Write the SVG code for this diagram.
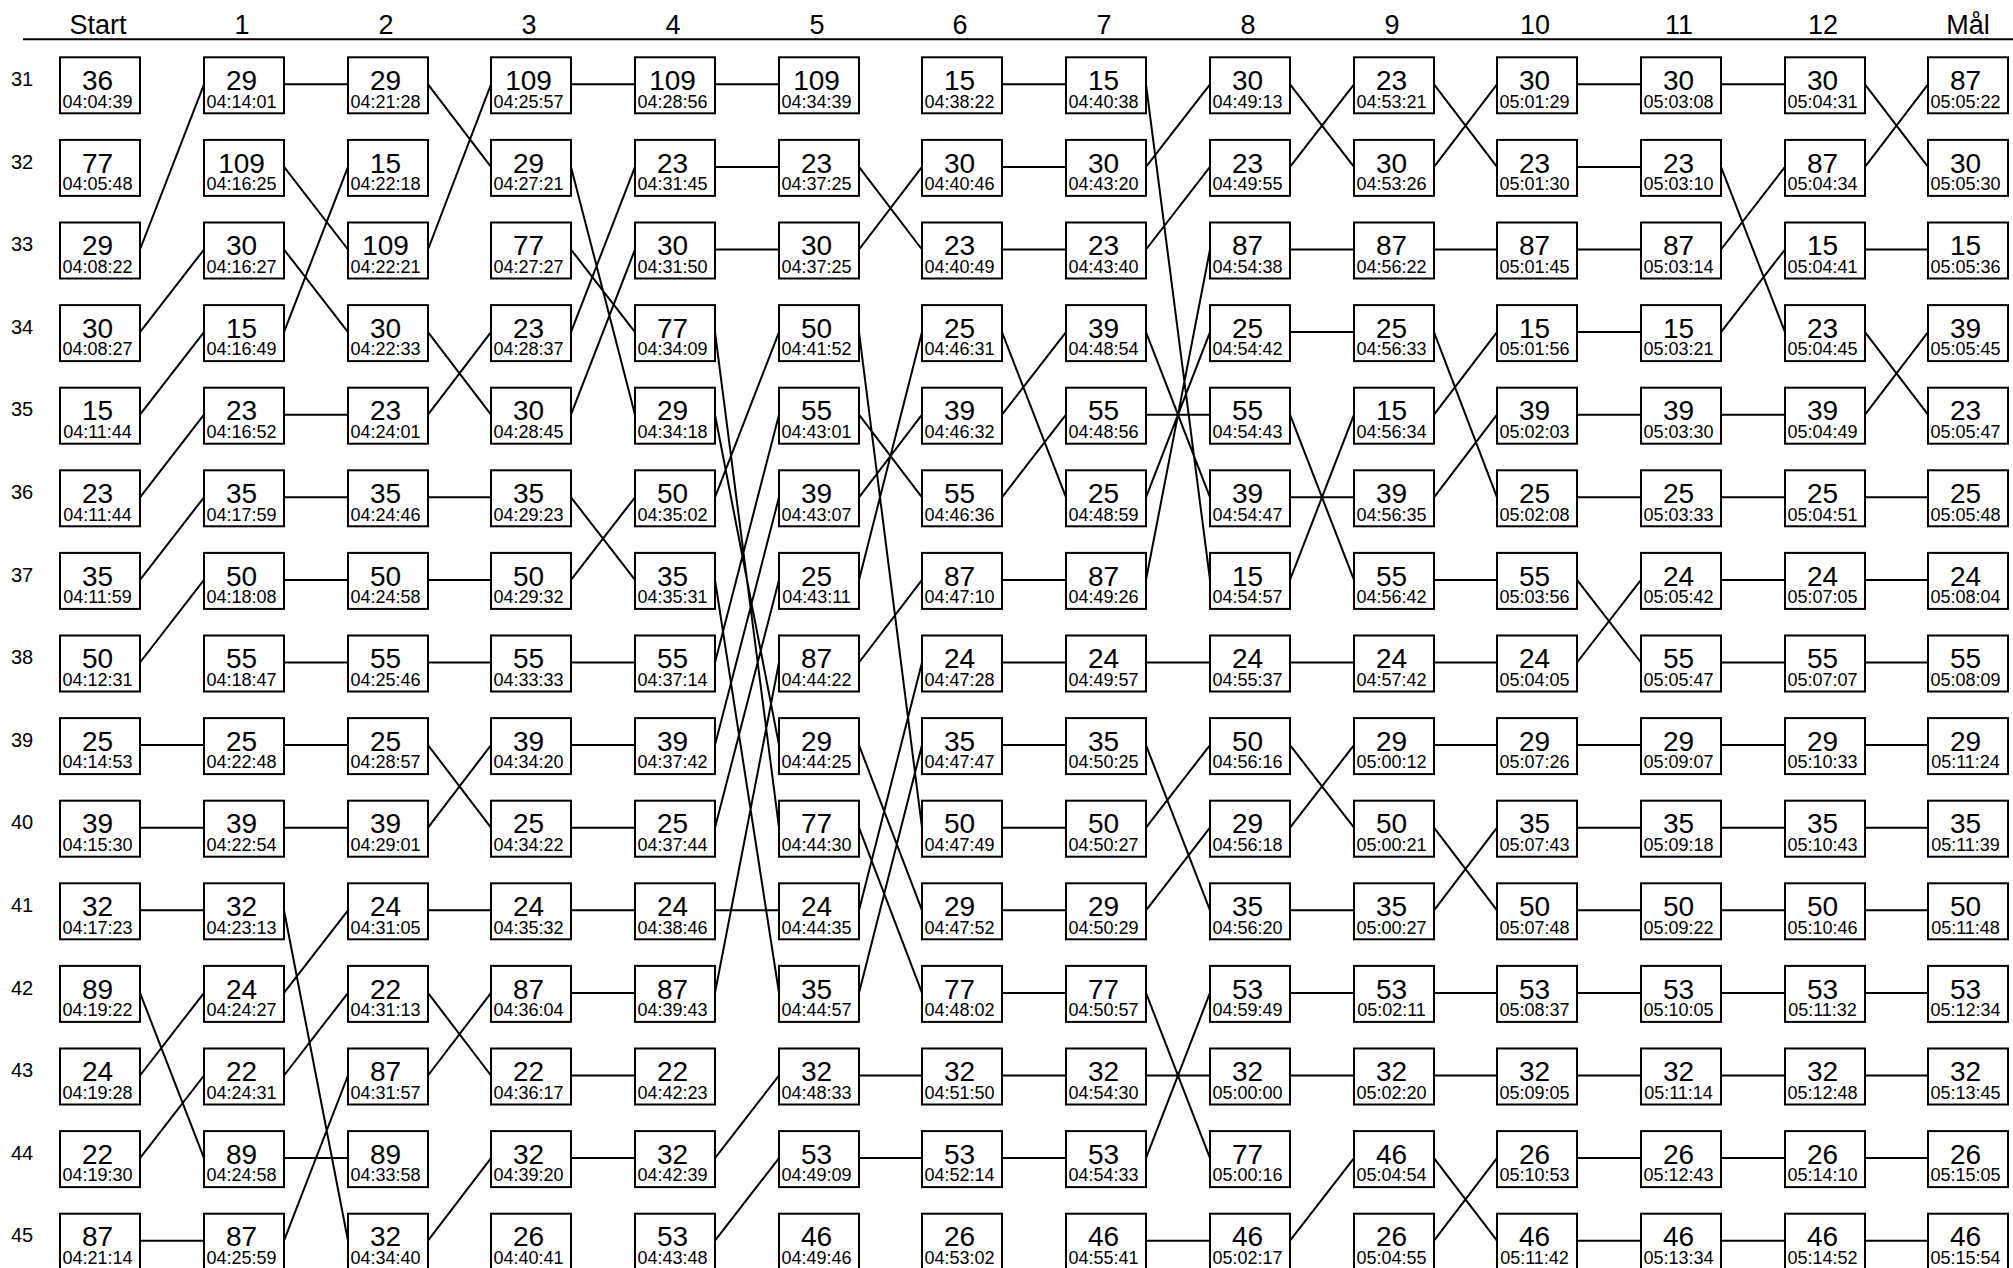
<svg xmlns="http://www.w3.org/2000/svg" width="2013" height="1268" viewBox="0 0 2013 1268">
<style>
text{font-family:"Liberation Sans",Arial,sans-serif;fill:#000}
.h{font-size:27px;text-anchor:middle}
.r{font-size:20px}
.nd rect{fill:#fff;stroke:#000;stroke-width:2}
.n{font-size:28px;text-anchor:middle}
.t{font-size:18px;text-anchor:middle}
#connectors path{fill:none;stroke:#000;stroke-width:2}
</style>
<rect width="2013" height="1268" fill="#fff"/>
<g id="header">
<line x1="23" y1="39.3" x2="2013" y2="39.3" stroke="#000" stroke-width="2"/>
<text class="h" x="98" y="34">Start</text><text class="h" x="242" y="34">1</text><text class="h" x="386" y="34">2</text><text class="h" x="529" y="34">3</text><text class="h" x="673" y="34">4</text><text class="h" x="817" y="34">5</text><text class="h" x="960" y="34">6</text><text class="h" x="1104" y="34">7</text><text class="h" x="1248" y="34">8</text><text class="h" x="1392" y="34">9</text><text class="h" x="1535" y="34">10</text><text class="h" x="1679" y="34">11</text><text class="h" x="1823" y="34">12</text><text class="h" x="1968" y="34">Mål</text>
</g>
<g id="rows">
<text class="r" x="11" y="86">31</text><text class="r" x="11" y="168.6">32</text><text class="r" x="11" y="251.2">33</text><text class="r" x="11" y="333.8">34</text><text class="r" x="11" y="416.4">35</text><text class="r" x="11" y="499">36</text><text class="r" x="11" y="581.6">37</text><text class="r" x="11" y="664.2">38</text><text class="r" x="11" y="746.8">39</text><text class="r" x="11" y="829.4">40</text><text class="r" x="11" y="912">41</text><text class="r" x="11" y="994.6">42</text><text class="r" x="11" y="1077.2">43</text><text class="r" x="11" y="1159.8">44</text><text class="r" x="11" y="1242.4">45</text>
</g>
<g id="connectors">
<path d="M140 249.5L204 84.3M140 332.1L204 249.5M140 414.7L204 332.1M140 497.3L204 414.7M140 579.9L204 497.3M140 662.5L204 579.9M140 745.1L204 745.1M140 827.7L204 827.7M140 910.3L204 910.3M140 992.9L204 1158.1M140 1075.5L204 992.9M140 1158.1L204 1075.5M140 1240.7L204 1240.7"/>
<path d="M284 84.3L348 84.3M284 332.1L348 166.9M284 166.9L348 249.5M284 249.5L348 332.1M284 414.7L348 414.7M284 497.3L348 497.3M284 579.9L348 579.9M284 662.5L348 662.5M284 745.1L348 745.1M284 827.7L348 827.7M284 992.9L348 910.3M284 1075.5L348 992.9M284 1240.7L348 1075.5M284 1158.1L348 1158.1M284 910.3L348 1240.7"/>
<path d="M428 249.5L491 84.3M428 84.3L491 166.9M428 414.7L491 332.1M428 332.1L491 414.7M428 497.3L491 497.3M428 579.9L491 579.9M428 662.5L491 662.5M428 827.7L491 745.1M428 745.1L491 827.7M428 910.3L491 910.3M428 1075.5L491 992.9M428 992.9L491 1075.5M428 1240.7L491 1158.1"/>
<path d="M571 84.3L635 84.3M571 332.1L635 166.9M571 414.7L635 249.5M571 249.5L635 332.1M571 166.9L635 414.7M571 579.9L635 497.3M571 497.3L635 579.9M571 662.5L635 662.5M571 745.1L635 745.1M571 827.7L635 827.7M571 910.3L635 910.3M571 992.9L635 992.9M571 1075.5L635 1075.5M571 1158.1L635 1158.1"/>
<path d="M715 84.3L779 84.3M715 166.9L779 166.9M715 249.5L779 249.5M715 497.3L779 332.1M715 662.5L779 414.7M715 745.1L779 497.3M715 827.7L779 579.9M715 992.9L779 662.5M715 414.7L779 745.1M715 332.1L779 827.7M715 910.3L779 910.3M715 579.9L779 992.9M715 1158.1L779 1075.5M715 1240.7L779 1158.1"/>
<path d="M859 249.5L922 166.9M859 166.9L922 249.5M859 579.9L922 332.1M859 497.3L922 414.7M859 414.7L922 497.3M859 662.5L922 579.9M859 910.3L922 662.5M859 992.9L922 745.1M859 332.1L922 827.7M859 745.1L922 910.3M859 827.7L922 992.9M859 1075.5L922 1075.5M859 1158.1L922 1158.1"/>
<path d="M1002 84.3L1066 84.3M1002 166.9L1066 166.9M1002 249.5L1066 249.5M1002 414.7L1066 332.1M1002 497.3L1066 414.7M1002 332.1L1066 497.3M1002 579.9L1066 579.9M1002 662.5L1066 662.5M1002 745.1L1066 745.1M1002 827.7L1066 827.7M1002 910.3L1066 910.3M1002 992.9L1066 992.9M1002 1075.5L1066 1075.5M1002 1158.1L1066 1158.1"/>
<path d="M1146 166.9L1210 84.3M1146 249.5L1210 166.9M1146 579.9L1210 249.5M1146 497.3L1210 332.1M1146 414.7L1210 414.7M1146 332.1L1210 497.3M1146 84.3L1210 579.9M1146 662.5L1210 662.5M1146 827.7L1210 745.1M1146 910.3L1210 827.7M1146 745.1L1210 910.3M1146 1158.1L1210 992.9M1146 1075.5L1210 1075.5M1146 992.9L1210 1158.1M1146 1240.7L1210 1240.7"/>
<path d="M1290 166.9L1354 84.3M1290 84.3L1354 166.9M1290 249.5L1354 249.5M1290 332.1L1354 332.1M1290 579.9L1354 414.7M1290 497.3L1354 497.3M1290 414.7L1354 579.9M1290 662.5L1354 662.5M1290 827.7L1354 745.1M1290 745.1L1354 827.7M1290 910.3L1354 910.3M1290 992.9L1354 992.9M1290 1075.5L1354 1075.5M1290 1240.7L1354 1158.1"/>
<path d="M1434 166.9L1497 84.3M1434 84.3L1497 166.9M1434 249.5L1497 249.5M1434 414.7L1497 332.1M1434 497.3L1497 414.7M1434 332.1L1497 497.3M1434 579.9L1497 579.9M1434 662.5L1497 662.5M1434 745.1L1497 745.1M1434 910.3L1497 827.7M1434 827.7L1497 910.3M1434 992.9L1497 992.9M1434 1075.5L1497 1075.5M1434 1240.7L1497 1158.1M1434 1158.1L1497 1240.7"/>
<path d="M1577 84.3L1641 84.3M1577 166.9L1641 166.9M1577 249.5L1641 249.5M1577 332.1L1641 332.1M1577 414.7L1641 414.7M1577 497.3L1641 497.3M1577 662.5L1641 579.9M1577 579.9L1641 662.5M1577 745.1L1641 745.1M1577 827.7L1641 827.7M1577 910.3L1641 910.3M1577 992.9L1641 992.9M1577 1075.5L1641 1075.5M1577 1158.1L1641 1158.1M1577 1240.7L1641 1240.7"/>
<path d="M1721 84.3L1785 84.3M1721 249.5L1785 166.9M1721 332.1L1785 249.5M1721 166.9L1785 332.1M1721 414.7L1785 414.7M1721 497.3L1785 497.3M1721 579.9L1785 579.9M1721 662.5L1785 662.5M1721 745.1L1785 745.1M1721 827.7L1785 827.7M1721 910.3L1785 910.3M1721 992.9L1785 992.9M1721 1075.5L1785 1075.5M1721 1158.1L1785 1158.1M1721 1240.7L1785 1240.7"/>
<path d="M1865 166.9L1928 84.3M1865 84.3L1928 166.9M1865 249.5L1928 249.5M1865 414.7L1928 332.1M1865 332.1L1928 414.7M1865 497.3L1928 497.3M1865 579.9L1928 579.9M1865 662.5L1928 662.5M1865 745.1L1928 745.1M1865 827.7L1928 827.7M1865 910.3L1928 910.3M1865 992.9L1928 992.9M1865 1075.5L1928 1075.5M1865 1158.1L1928 1158.1M1865 1240.7L1928 1240.7"/>
</g>
<g id="nodes">
<g id="c0r31" class="nd" transform="translate(60,57.3)"><rect width="80" height="56"/><text class="n" x="37.5" y="32.7">36</text><text class="t" x="37.5" y="50.4">04:04:39</text></g>
<g id="c0r32" class="nd" transform="translate(60,139.9)"><rect width="80" height="56"/><text class="n" x="37.5" y="32.7">77</text><text class="t" x="37.5" y="50.4">04:05:48</text></g>
<g id="c0r33" class="nd" transform="translate(60,222.5)"><rect width="80" height="56"/><text class="n" x="37.5" y="32.7">29</text><text class="t" x="37.5" y="50.4">04:08:22</text></g>
<g id="c0r34" class="nd" transform="translate(60,305.1)"><rect width="80" height="56"/><text class="n" x="37.5" y="32.7">30</text><text class="t" x="37.5" y="50.4">04:08:27</text></g>
<g id="c0r35" class="nd" transform="translate(60,387.7)"><rect width="80" height="56"/><text class="n" x="37.5" y="32.7">15</text><text class="t" x="37.5" y="50.4">04:11:44</text></g>
<g id="c0r36" class="nd" transform="translate(60,470.3)"><rect width="80" height="56"/><text class="n" x="37.5" y="32.7">23</text><text class="t" x="37.5" y="50.4">04:11:44</text></g>
<g id="c0r37" class="nd" transform="translate(60,552.9)"><rect width="80" height="56"/><text class="n" x="37.5" y="32.7">35</text><text class="t" x="37.5" y="50.4">04:11:59</text></g>
<g id="c0r38" class="nd" transform="translate(60,635.5)"><rect width="80" height="56"/><text class="n" x="37.5" y="32.7">50</text><text class="t" x="37.5" y="50.4">04:12:31</text></g>
<g id="c0r39" class="nd" transform="translate(60,718.1)"><rect width="80" height="56"/><text class="n" x="37.5" y="32.7">25</text><text class="t" x="37.5" y="50.4">04:14:53</text></g>
<g id="c0r40" class="nd" transform="translate(60,800.7)"><rect width="80" height="56"/><text class="n" x="37.5" y="32.7">39</text><text class="t" x="37.5" y="50.4">04:15:30</text></g>
<g id="c0r41" class="nd" transform="translate(60,883.3)"><rect width="80" height="56"/><text class="n" x="37.5" y="32.7">32</text><text class="t" x="37.5" y="50.4">04:17:23</text></g>
<g id="c0r42" class="nd" transform="translate(60,965.9)"><rect width="80" height="56"/><text class="n" x="37.5" y="32.7">89</text><text class="t" x="37.5" y="50.4">04:19:22</text></g>
<g id="c0r43" class="nd" transform="translate(60,1048.5)"><rect width="80" height="56"/><text class="n" x="37.5" y="32.7">24</text><text class="t" x="37.5" y="50.4">04:19:28</text></g>
<g id="c0r44" class="nd" transform="translate(60,1131.1)"><rect width="80" height="56"/><text class="n" x="37.5" y="32.7">22</text><text class="t" x="37.5" y="50.4">04:19:30</text></g>
<g id="c0r45" class="nd" transform="translate(60,1213.7)"><rect width="80" height="56"/><text class="n" x="37.5" y="32.7">87</text><text class="t" x="37.5" y="50.4">04:21:14</text></g>

<g id="c1r31" class="nd" transform="translate(204,57.3)"><rect width="80" height="56"/><text class="n" x="37.5" y="32.7">29</text><text class="t" x="37.5" y="50.4">04:14:01</text></g>
<g id="c1r32" class="nd" transform="translate(204,139.9)"><rect width="80" height="56"/><text class="n" x="37.5" y="32.7">109</text><text class="t" x="37.5" y="50.4">04:16:25</text></g>
<g id="c1r33" class="nd" transform="translate(204,222.5)"><rect width="80" height="56"/><text class="n" x="37.5" y="32.7">30</text><text class="t" x="37.5" y="50.4">04:16:27</text></g>
<g id="c1r34" class="nd" transform="translate(204,305.1)"><rect width="80" height="56"/><text class="n" x="37.5" y="32.7">15</text><text class="t" x="37.5" y="50.4">04:16:49</text></g>
<g id="c1r35" class="nd" transform="translate(204,387.7)"><rect width="80" height="56"/><text class="n" x="37.5" y="32.7">23</text><text class="t" x="37.5" y="50.4">04:16:52</text></g>
<g id="c1r36" class="nd" transform="translate(204,470.3)"><rect width="80" height="56"/><text class="n" x="37.5" y="32.7">35</text><text class="t" x="37.5" y="50.4">04:17:59</text></g>
<g id="c1r37" class="nd" transform="translate(204,552.9)"><rect width="80" height="56"/><text class="n" x="37.5" y="32.7">50</text><text class="t" x="37.5" y="50.4">04:18:08</text></g>
<g id="c1r38" class="nd" transform="translate(204,635.5)"><rect width="80" height="56"/><text class="n" x="37.5" y="32.7">55</text><text class="t" x="37.5" y="50.4">04:18:47</text></g>
<g id="c1r39" class="nd" transform="translate(204,718.1)"><rect width="80" height="56"/><text class="n" x="37.5" y="32.7">25</text><text class="t" x="37.5" y="50.4">04:22:48</text></g>
<g id="c1r40" class="nd" transform="translate(204,800.7)"><rect width="80" height="56"/><text class="n" x="37.5" y="32.7">39</text><text class="t" x="37.5" y="50.4">04:22:54</text></g>
<g id="c1r41" class="nd" transform="translate(204,883.3)"><rect width="80" height="56"/><text class="n" x="37.5" y="32.7">32</text><text class="t" x="37.5" y="50.4">04:23:13</text></g>
<g id="c1r42" class="nd" transform="translate(204,965.9)"><rect width="80" height="56"/><text class="n" x="37.5" y="32.7">24</text><text class="t" x="37.5" y="50.4">04:24:27</text></g>
<g id="c1r43" class="nd" transform="translate(204,1048.5)"><rect width="80" height="56"/><text class="n" x="37.5" y="32.7">22</text><text class="t" x="37.5" y="50.4">04:24:31</text></g>
<g id="c1r44" class="nd" transform="translate(204,1131.1)"><rect width="80" height="56"/><text class="n" x="37.5" y="32.7">89</text><text class="t" x="37.5" y="50.4">04:24:58</text></g>
<g id="c1r45" class="nd" transform="translate(204,1213.7)"><rect width="80" height="56"/><text class="n" x="37.5" y="32.7">87</text><text class="t" x="37.5" y="50.4">04:25:59</text></g>

<g id="c2r31" class="nd" transform="translate(348,57.3)"><rect width="80" height="56"/><text class="n" x="37.5" y="32.7">29</text><text class="t" x="37.5" y="50.4">04:21:28</text></g>
<g id="c2r32" class="nd" transform="translate(348,139.9)"><rect width="80" height="56"/><text class="n" x="37.5" y="32.7">15</text><text class="t" x="37.5" y="50.4">04:22:18</text></g>
<g id="c2r33" class="nd" transform="translate(348,222.5)"><rect width="80" height="56"/><text class="n" x="37.5" y="32.7">109</text><text class="t" x="37.5" y="50.4">04:22:21</text></g>
<g id="c2r34" class="nd" transform="translate(348,305.1)"><rect width="80" height="56"/><text class="n" x="37.5" y="32.7">30</text><text class="t" x="37.5" y="50.4">04:22:33</text></g>
<g id="c2r35" class="nd" transform="translate(348,387.7)"><rect width="80" height="56"/><text class="n" x="37.5" y="32.7">23</text><text class="t" x="37.5" y="50.4">04:24:01</text></g>
<g id="c2r36" class="nd" transform="translate(348,470.3)"><rect width="80" height="56"/><text class="n" x="37.5" y="32.7">35</text><text class="t" x="37.5" y="50.4">04:24:46</text></g>
<g id="c2r37" class="nd" transform="translate(348,552.9)"><rect width="80" height="56"/><text class="n" x="37.5" y="32.7">50</text><text class="t" x="37.5" y="50.4">04:24:58</text></g>
<g id="c2r38" class="nd" transform="translate(348,635.5)"><rect width="80" height="56"/><text class="n" x="37.5" y="32.7">55</text><text class="t" x="37.5" y="50.4">04:25:46</text></g>
<g id="c2r39" class="nd" transform="translate(348,718.1)"><rect width="80" height="56"/><text class="n" x="37.5" y="32.7">25</text><text class="t" x="37.5" y="50.4">04:28:57</text></g>
<g id="c2r40" class="nd" transform="translate(348,800.7)"><rect width="80" height="56"/><text class="n" x="37.5" y="32.7">39</text><text class="t" x="37.5" y="50.4">04:29:01</text></g>
<g id="c2r41" class="nd" transform="translate(348,883.3)"><rect width="80" height="56"/><text class="n" x="37.5" y="32.7">24</text><text class="t" x="37.5" y="50.4">04:31:05</text></g>
<g id="c2r42" class="nd" transform="translate(348,965.9)"><rect width="80" height="56"/><text class="n" x="37.5" y="32.7">22</text><text class="t" x="37.5" y="50.4">04:31:13</text></g>
<g id="c2r43" class="nd" transform="translate(348,1048.5)"><rect width="80" height="56"/><text class="n" x="37.5" y="32.7">87</text><text class="t" x="37.5" y="50.4">04:31:57</text></g>
<g id="c2r44" class="nd" transform="translate(348,1131.1)"><rect width="80" height="56"/><text class="n" x="37.5" y="32.7">89</text><text class="t" x="37.5" y="50.4">04:33:58</text></g>
<g id="c2r45" class="nd" transform="translate(348,1213.7)"><rect width="80" height="56"/><text class="n" x="37.5" y="32.7">32</text><text class="t" x="37.5" y="50.4">04:34:40</text></g>

<g id="c3r31" class="nd" transform="translate(491,57.3)"><rect width="80" height="56"/><text class="n" x="37.5" y="32.7">109</text><text class="t" x="37.5" y="50.4">04:25:57</text></g>
<g id="c3r32" class="nd" transform="translate(491,139.9)"><rect width="80" height="56"/><text class="n" x="37.5" y="32.7">29</text><text class="t" x="37.5" y="50.4">04:27:21</text></g>
<g id="c3r33" class="nd" transform="translate(491,222.5)"><rect width="80" height="56"/><text class="n" x="37.5" y="32.7">77</text><text class="t" x="37.5" y="50.4">04:27:27</text></g>
<g id="c3r34" class="nd" transform="translate(491,305.1)"><rect width="80" height="56"/><text class="n" x="37.5" y="32.7">23</text><text class="t" x="37.5" y="50.4">04:28:37</text></g>
<g id="c3r35" class="nd" transform="translate(491,387.7)"><rect width="80" height="56"/><text class="n" x="37.5" y="32.7">30</text><text class="t" x="37.5" y="50.4">04:28:45</text></g>
<g id="c3r36" class="nd" transform="translate(491,470.3)"><rect width="80" height="56"/><text class="n" x="37.5" y="32.7">35</text><text class="t" x="37.5" y="50.4">04:29:23</text></g>
<g id="c3r37" class="nd" transform="translate(491,552.9)"><rect width="80" height="56"/><text class="n" x="37.5" y="32.7">50</text><text class="t" x="37.5" y="50.4">04:29:32</text></g>
<g id="c3r38" class="nd" transform="translate(491,635.5)"><rect width="80" height="56"/><text class="n" x="37.5" y="32.7">55</text><text class="t" x="37.5" y="50.4">04:33:33</text></g>
<g id="c3r39" class="nd" transform="translate(491,718.1)"><rect width="80" height="56"/><text class="n" x="37.5" y="32.7">39</text><text class="t" x="37.5" y="50.4">04:34:20</text></g>
<g id="c3r40" class="nd" transform="translate(491,800.7)"><rect width="80" height="56"/><text class="n" x="37.5" y="32.7">25</text><text class="t" x="37.5" y="50.4">04:34:22</text></g>
<g id="c3r41" class="nd" transform="translate(491,883.3)"><rect width="80" height="56"/><text class="n" x="37.5" y="32.7">24</text><text class="t" x="37.5" y="50.4">04:35:32</text></g>
<g id="c3r42" class="nd" transform="translate(491,965.9)"><rect width="80" height="56"/><text class="n" x="37.5" y="32.7">87</text><text class="t" x="37.5" y="50.4">04:36:04</text></g>
<g id="c3r43" class="nd" transform="translate(491,1048.5)"><rect width="80" height="56"/><text class="n" x="37.5" y="32.7">22</text><text class="t" x="37.5" y="50.4">04:36:17</text></g>
<g id="c3r44" class="nd" transform="translate(491,1131.1)"><rect width="80" height="56"/><text class="n" x="37.5" y="32.7">32</text><text class="t" x="37.5" y="50.4">04:39:20</text></g>
<g id="c3r45" class="nd" transform="translate(491,1213.7)"><rect width="80" height="56"/><text class="n" x="37.5" y="32.7">26</text><text class="t" x="37.5" y="50.4">04:40:41</text></g>

<g id="c4r31" class="nd" transform="translate(635,57.3)"><rect width="80" height="56"/><text class="n" x="37.5" y="32.7">109</text><text class="t" x="37.5" y="50.4">04:28:56</text></g>
<g id="c4r32" class="nd" transform="translate(635,139.9)"><rect width="80" height="56"/><text class="n" x="37.5" y="32.7">23</text><text class="t" x="37.5" y="50.4">04:31:45</text></g>
<g id="c4r33" class="nd" transform="translate(635,222.5)"><rect width="80" height="56"/><text class="n" x="37.5" y="32.7">30</text><text class="t" x="37.5" y="50.4">04:31:50</text></g>
<g id="c4r34" class="nd" transform="translate(635,305.1)"><rect width="80" height="56"/><text class="n" x="37.5" y="32.7">77</text><text class="t" x="37.5" y="50.4">04:34:09</text></g>
<g id="c4r35" class="nd" transform="translate(635,387.7)"><rect width="80" height="56"/><text class="n" x="37.5" y="32.7">29</text><text class="t" x="37.5" y="50.4">04:34:18</text></g>
<g id="c4r36" class="nd" transform="translate(635,470.3)"><rect width="80" height="56"/><text class="n" x="37.5" y="32.7">50</text><text class="t" x="37.5" y="50.4">04:35:02</text></g>
<g id="c4r37" class="nd" transform="translate(635,552.9)"><rect width="80" height="56"/><text class="n" x="37.5" y="32.7">35</text><text class="t" x="37.5" y="50.4">04:35:31</text></g>
<g id="c4r38" class="nd" transform="translate(635,635.5)"><rect width="80" height="56"/><text class="n" x="37.5" y="32.7">55</text><text class="t" x="37.5" y="50.4">04:37:14</text></g>
<g id="c4r39" class="nd" transform="translate(635,718.1)"><rect width="80" height="56"/><text class="n" x="37.5" y="32.7">39</text><text class="t" x="37.5" y="50.4">04:37:42</text></g>
<g id="c4r40" class="nd" transform="translate(635,800.7)"><rect width="80" height="56"/><text class="n" x="37.5" y="32.7">25</text><text class="t" x="37.5" y="50.4">04:37:44</text></g>
<g id="c4r41" class="nd" transform="translate(635,883.3)"><rect width="80" height="56"/><text class="n" x="37.5" y="32.7">24</text><text class="t" x="37.5" y="50.4">04:38:46</text></g>
<g id="c4r42" class="nd" transform="translate(635,965.9)"><rect width="80" height="56"/><text class="n" x="37.5" y="32.7">87</text><text class="t" x="37.5" y="50.4">04:39:43</text></g>
<g id="c4r43" class="nd" transform="translate(635,1048.5)"><rect width="80" height="56"/><text class="n" x="37.5" y="32.7">22</text><text class="t" x="37.5" y="50.4">04:42:23</text></g>
<g id="c4r44" class="nd" transform="translate(635,1131.1)"><rect width="80" height="56"/><text class="n" x="37.5" y="32.7">32</text><text class="t" x="37.5" y="50.4">04:42:39</text></g>
<g id="c4r45" class="nd" transform="translate(635,1213.7)"><rect width="80" height="56"/><text class="n" x="37.5" y="32.7">53</text><text class="t" x="37.5" y="50.4">04:43:48</text></g>

<g id="c5r31" class="nd" transform="translate(779,57.3)"><rect width="80" height="56"/><text class="n" x="37.5" y="32.7">109</text><text class="t" x="37.5" y="50.4">04:34:39</text></g>
<g id="c5r32" class="nd" transform="translate(779,139.9)"><rect width="80" height="56"/><text class="n" x="37.5" y="32.7">23</text><text class="t" x="37.5" y="50.4">04:37:25</text></g>
<g id="c5r33" class="nd" transform="translate(779,222.5)"><rect width="80" height="56"/><text class="n" x="37.5" y="32.7">30</text><text class="t" x="37.5" y="50.4">04:37:25</text></g>
<g id="c5r34" class="nd" transform="translate(779,305.1)"><rect width="80" height="56"/><text class="n" x="37.5" y="32.7">50</text><text class="t" x="37.5" y="50.4">04:41:52</text></g>
<g id="c5r35" class="nd" transform="translate(779,387.7)"><rect width="80" height="56"/><text class="n" x="37.5" y="32.7">55</text><text class="t" x="37.5" y="50.4">04:43:01</text></g>
<g id="c5r36" class="nd" transform="translate(779,470.3)"><rect width="80" height="56"/><text class="n" x="37.5" y="32.7">39</text><text class="t" x="37.5" y="50.4">04:43:07</text></g>
<g id="c5r37" class="nd" transform="translate(779,552.9)"><rect width="80" height="56"/><text class="n" x="37.5" y="32.7">25</text><text class="t" x="37.5" y="50.4">04:43:11</text></g>
<g id="c5r38" class="nd" transform="translate(779,635.5)"><rect width="80" height="56"/><text class="n" x="37.5" y="32.7">87</text><text class="t" x="37.5" y="50.4">04:44:22</text></g>
<g id="c5r39" class="nd" transform="translate(779,718.1)"><rect width="80" height="56"/><text class="n" x="37.5" y="32.7">29</text><text class="t" x="37.5" y="50.4">04:44:25</text></g>
<g id="c5r40" class="nd" transform="translate(779,800.7)"><rect width="80" height="56"/><text class="n" x="37.5" y="32.7">77</text><text class="t" x="37.5" y="50.4">04:44:30</text></g>
<g id="c5r41" class="nd" transform="translate(779,883.3)"><rect width="80" height="56"/><text class="n" x="37.5" y="32.7">24</text><text class="t" x="37.5" y="50.4">04:44:35</text></g>
<g id="c5r42" class="nd" transform="translate(779,965.9)"><rect width="80" height="56"/><text class="n" x="37.5" y="32.7">35</text><text class="t" x="37.5" y="50.4">04:44:57</text></g>
<g id="c5r43" class="nd" transform="translate(779,1048.5)"><rect width="80" height="56"/><text class="n" x="37.5" y="32.7">32</text><text class="t" x="37.5" y="50.4">04:48:33</text></g>
<g id="c5r44" class="nd" transform="translate(779,1131.1)"><rect width="80" height="56"/><text class="n" x="37.5" y="32.7">53</text><text class="t" x="37.5" y="50.4">04:49:09</text></g>
<g id="c5r45" class="nd" transform="translate(779,1213.7)"><rect width="80" height="56"/><text class="n" x="37.5" y="32.7">46</text><text class="t" x="37.5" y="50.4">04:49:46</text></g>

<g id="c6r31" class="nd" transform="translate(922,57.3)"><rect width="80" height="56"/><text class="n" x="37.5" y="32.7">15</text><text class="t" x="37.5" y="50.4">04:38:22</text></g>
<g id="c6r32" class="nd" transform="translate(922,139.9)"><rect width="80" height="56"/><text class="n" x="37.5" y="32.7">30</text><text class="t" x="37.5" y="50.4">04:40:46</text></g>
<g id="c6r33" class="nd" transform="translate(922,222.5)"><rect width="80" height="56"/><text class="n" x="37.5" y="32.7">23</text><text class="t" x="37.5" y="50.4">04:40:49</text></g>
<g id="c6r34" class="nd" transform="translate(922,305.1)"><rect width="80" height="56"/><text class="n" x="37.5" y="32.7">25</text><text class="t" x="37.5" y="50.4">04:46:31</text></g>
<g id="c6r35" class="nd" transform="translate(922,387.7)"><rect width="80" height="56"/><text class="n" x="37.5" y="32.7">39</text><text class="t" x="37.5" y="50.4">04:46:32</text></g>
<g id="c6r36" class="nd" transform="translate(922,470.3)"><rect width="80" height="56"/><text class="n" x="37.5" y="32.7">55</text><text class="t" x="37.5" y="50.4">04:46:36</text></g>
<g id="c6r37" class="nd" transform="translate(922,552.9)"><rect width="80" height="56"/><text class="n" x="37.5" y="32.7">87</text><text class="t" x="37.5" y="50.4">04:47:10</text></g>
<g id="c6r38" class="nd" transform="translate(922,635.5)"><rect width="80" height="56"/><text class="n" x="37.5" y="32.7">24</text><text class="t" x="37.5" y="50.4">04:47:28</text></g>
<g id="c6r39" class="nd" transform="translate(922,718.1)"><rect width="80" height="56"/><text class="n" x="37.5" y="32.7">35</text><text class="t" x="37.5" y="50.4">04:47:47</text></g>
<g id="c6r40" class="nd" transform="translate(922,800.7)"><rect width="80" height="56"/><text class="n" x="37.5" y="32.7">50</text><text class="t" x="37.5" y="50.4">04:47:49</text></g>
<g id="c6r41" class="nd" transform="translate(922,883.3)"><rect width="80" height="56"/><text class="n" x="37.5" y="32.7">29</text><text class="t" x="37.5" y="50.4">04:47:52</text></g>
<g id="c6r42" class="nd" transform="translate(922,965.9)"><rect width="80" height="56"/><text class="n" x="37.5" y="32.7">77</text><text class="t" x="37.5" y="50.4">04:48:02</text></g>
<g id="c6r43" class="nd" transform="translate(922,1048.5)"><rect width="80" height="56"/><text class="n" x="37.5" y="32.7">32</text><text class="t" x="37.5" y="50.4">04:51:50</text></g>
<g id="c6r44" class="nd" transform="translate(922,1131.1)"><rect width="80" height="56"/><text class="n" x="37.5" y="32.7">53</text><text class="t" x="37.5" y="50.4">04:52:14</text></g>
<g id="c6r45" class="nd" transform="translate(922,1213.7)"><rect width="80" height="56"/><text class="n" x="37.5" y="32.7">26</text><text class="t" x="37.5" y="50.4">04:53:02</text></g>

<g id="c7r31" class="nd" transform="translate(1066,57.3)"><rect width="80" height="56"/><text class="n" x="37.5" y="32.7">15</text><text class="t" x="37.5" y="50.4">04:40:38</text></g>
<g id="c7r32" class="nd" transform="translate(1066,139.9)"><rect width="80" height="56"/><text class="n" x="37.5" y="32.7">30</text><text class="t" x="37.5" y="50.4">04:43:20</text></g>
<g id="c7r33" class="nd" transform="translate(1066,222.5)"><rect width="80" height="56"/><text class="n" x="37.5" y="32.7">23</text><text class="t" x="37.5" y="50.4">04:43:40</text></g>
<g id="c7r34" class="nd" transform="translate(1066,305.1)"><rect width="80" height="56"/><text class="n" x="37.5" y="32.7">39</text><text class="t" x="37.5" y="50.4">04:48:54</text></g>
<g id="c7r35" class="nd" transform="translate(1066,387.7)"><rect width="80" height="56"/><text class="n" x="37.5" y="32.7">55</text><text class="t" x="37.5" y="50.4">04:48:56</text></g>
<g id="c7r36" class="nd" transform="translate(1066,470.3)"><rect width="80" height="56"/><text class="n" x="37.5" y="32.7">25</text><text class="t" x="37.5" y="50.4">04:48:59</text></g>
<g id="c7r37" class="nd" transform="translate(1066,552.9)"><rect width="80" height="56"/><text class="n" x="37.5" y="32.7">87</text><text class="t" x="37.5" y="50.4">04:49:26</text></g>
<g id="c7r38" class="nd" transform="translate(1066,635.5)"><rect width="80" height="56"/><text class="n" x="37.5" y="32.7">24</text><text class="t" x="37.5" y="50.4">04:49:57</text></g>
<g id="c7r39" class="nd" transform="translate(1066,718.1)"><rect width="80" height="56"/><text class="n" x="37.5" y="32.7">35</text><text class="t" x="37.5" y="50.4">04:50:25</text></g>
<g id="c7r40" class="nd" transform="translate(1066,800.7)"><rect width="80" height="56"/><text class="n" x="37.5" y="32.7">50</text><text class="t" x="37.5" y="50.4">04:50:27</text></g>
<g id="c7r41" class="nd" transform="translate(1066,883.3)"><rect width="80" height="56"/><text class="n" x="37.5" y="32.7">29</text><text class="t" x="37.5" y="50.4">04:50:29</text></g>
<g id="c7r42" class="nd" transform="translate(1066,965.9)"><rect width="80" height="56"/><text class="n" x="37.5" y="32.7">77</text><text class="t" x="37.5" y="50.4">04:50:57</text></g>
<g id="c7r43" class="nd" transform="translate(1066,1048.5)"><rect width="80" height="56"/><text class="n" x="37.5" y="32.7">32</text><text class="t" x="37.5" y="50.4">04:54:30</text></g>
<g id="c7r44" class="nd" transform="translate(1066,1131.1)"><rect width="80" height="56"/><text class="n" x="37.5" y="32.7">53</text><text class="t" x="37.5" y="50.4">04:54:33</text></g>
<g id="c7r45" class="nd" transform="translate(1066,1213.7)"><rect width="80" height="56"/><text class="n" x="37.5" y="32.7">46</text><text class="t" x="37.5" y="50.4">04:55:41</text></g>

<g id="c8r31" class="nd" transform="translate(1210,57.3)"><rect width="80" height="56"/><text class="n" x="37.5" y="32.7">30</text><text class="t" x="37.5" y="50.4">04:49:13</text></g>
<g id="c8r32" class="nd" transform="translate(1210,139.9)"><rect width="80" height="56"/><text class="n" x="37.5" y="32.7">23</text><text class="t" x="37.5" y="50.4">04:49:55</text></g>
<g id="c8r33" class="nd" transform="translate(1210,222.5)"><rect width="80" height="56"/><text class="n" x="37.5" y="32.7">87</text><text class="t" x="37.5" y="50.4">04:54:38</text></g>
<g id="c8r34" class="nd" transform="translate(1210,305.1)"><rect width="80" height="56"/><text class="n" x="37.5" y="32.7">25</text><text class="t" x="37.5" y="50.4">04:54:42</text></g>
<g id="c8r35" class="nd" transform="translate(1210,387.7)"><rect width="80" height="56"/><text class="n" x="37.5" y="32.7">55</text><text class="t" x="37.5" y="50.4">04:54:43</text></g>
<g id="c8r36" class="nd" transform="translate(1210,470.3)"><rect width="80" height="56"/><text class="n" x="37.5" y="32.7">39</text><text class="t" x="37.5" y="50.4">04:54:47</text></g>
<g id="c8r37" class="nd" transform="translate(1210,552.9)"><rect width="80" height="56"/><text class="n" x="37.5" y="32.7">15</text><text class="t" x="37.5" y="50.4">04:54:57</text></g>
<g id="c8r38" class="nd" transform="translate(1210,635.5)"><rect width="80" height="56"/><text class="n" x="37.5" y="32.7">24</text><text class="t" x="37.5" y="50.4">04:55:37</text></g>
<g id="c8r39" class="nd" transform="translate(1210,718.1)"><rect width="80" height="56"/><text class="n" x="37.5" y="32.7">50</text><text class="t" x="37.5" y="50.4">04:56:16</text></g>
<g id="c8r40" class="nd" transform="translate(1210,800.7)"><rect width="80" height="56"/><text class="n" x="37.5" y="32.7">29</text><text class="t" x="37.5" y="50.4">04:56:18</text></g>
<g id="c8r41" class="nd" transform="translate(1210,883.3)"><rect width="80" height="56"/><text class="n" x="37.5" y="32.7">35</text><text class="t" x="37.5" y="50.4">04:56:20</text></g>
<g id="c8r42" class="nd" transform="translate(1210,965.9)"><rect width="80" height="56"/><text class="n" x="37.5" y="32.7">53</text><text class="t" x="37.5" y="50.4">04:59:49</text></g>
<g id="c8r43" class="nd" transform="translate(1210,1048.5)"><rect width="80" height="56"/><text class="n" x="37.5" y="32.7">32</text><text class="t" x="37.5" y="50.4">05:00:00</text></g>
<g id="c8r44" class="nd" transform="translate(1210,1131.1)"><rect width="80" height="56"/><text class="n" x="37.5" y="32.7">77</text><text class="t" x="37.5" y="50.4">05:00:16</text></g>
<g id="c8r45" class="nd" transform="translate(1210,1213.7)"><rect width="80" height="56"/><text class="n" x="37.5" y="32.7">46</text><text class="t" x="37.5" y="50.4">05:02:17</text></g>

<g id="c9r31" class="nd" transform="translate(1354,57.3)"><rect width="80" height="56"/><text class="n" x="37.5" y="32.7">23</text><text class="t" x="37.5" y="50.4">04:53:21</text></g>
<g id="c9r32" class="nd" transform="translate(1354,139.9)"><rect width="80" height="56"/><text class="n" x="37.5" y="32.7">30</text><text class="t" x="37.5" y="50.4">04:53:26</text></g>
<g id="c9r33" class="nd" transform="translate(1354,222.5)"><rect width="80" height="56"/><text class="n" x="37.5" y="32.7">87</text><text class="t" x="37.5" y="50.4">04:56:22</text></g>
<g id="c9r34" class="nd" transform="translate(1354,305.1)"><rect width="80" height="56"/><text class="n" x="37.5" y="32.7">25</text><text class="t" x="37.5" y="50.4">04:56:33</text></g>
<g id="c9r35" class="nd" transform="translate(1354,387.7)"><rect width="80" height="56"/><text class="n" x="37.5" y="32.7">15</text><text class="t" x="37.5" y="50.4">04:56:34</text></g>
<g id="c9r36" class="nd" transform="translate(1354,470.3)"><rect width="80" height="56"/><text class="n" x="37.5" y="32.7">39</text><text class="t" x="37.5" y="50.4">04:56:35</text></g>
<g id="c9r37" class="nd" transform="translate(1354,552.9)"><rect width="80" height="56"/><text class="n" x="37.5" y="32.7">55</text><text class="t" x="37.5" y="50.4">04:56:42</text></g>
<g id="c9r38" class="nd" transform="translate(1354,635.5)"><rect width="80" height="56"/><text class="n" x="37.5" y="32.7">24</text><text class="t" x="37.5" y="50.4">04:57:42</text></g>
<g id="c9r39" class="nd" transform="translate(1354,718.1)"><rect width="80" height="56"/><text class="n" x="37.5" y="32.7">29</text><text class="t" x="37.5" y="50.4">05:00:12</text></g>
<g id="c9r40" class="nd" transform="translate(1354,800.7)"><rect width="80" height="56"/><text class="n" x="37.5" y="32.7">50</text><text class="t" x="37.5" y="50.4">05:00:21</text></g>
<g id="c9r41" class="nd" transform="translate(1354,883.3)"><rect width="80" height="56"/><text class="n" x="37.5" y="32.7">35</text><text class="t" x="37.5" y="50.4">05:00:27</text></g>
<g id="c9r42" class="nd" transform="translate(1354,965.9)"><rect width="80" height="56"/><text class="n" x="37.5" y="32.7">53</text><text class="t" x="37.5" y="50.4">05:02:11</text></g>
<g id="c9r43" class="nd" transform="translate(1354,1048.5)"><rect width="80" height="56"/><text class="n" x="37.5" y="32.7">32</text><text class="t" x="37.5" y="50.4">05:02:20</text></g>
<g id="c9r44" class="nd" transform="translate(1354,1131.1)"><rect width="80" height="56"/><text class="n" x="37.5" y="32.7">46</text><text class="t" x="37.5" y="50.4">05:04:54</text></g>
<g id="c9r45" class="nd" transform="translate(1354,1213.7)"><rect width="80" height="56"/><text class="n" x="37.5" y="32.7">26</text><text class="t" x="37.5" y="50.4">05:04:55</text></g>

<g id="c10r31" class="nd" transform="translate(1497,57.3)"><rect width="80" height="56"/><text class="n" x="37.5" y="32.7">30</text><text class="t" x="37.5" y="50.4">05:01:29</text></g>
<g id="c10r32" class="nd" transform="translate(1497,139.9)"><rect width="80" height="56"/><text class="n" x="37.5" y="32.7">23</text><text class="t" x="37.5" y="50.4">05:01:30</text></g>
<g id="c10r33" class="nd" transform="translate(1497,222.5)"><rect width="80" height="56"/><text class="n" x="37.5" y="32.7">87</text><text class="t" x="37.5" y="50.4">05:01:45</text></g>
<g id="c10r34" class="nd" transform="translate(1497,305.1)"><rect width="80" height="56"/><text class="n" x="37.5" y="32.7">15</text><text class="t" x="37.5" y="50.4">05:01:56</text></g>
<g id="c10r35" class="nd" transform="translate(1497,387.7)"><rect width="80" height="56"/><text class="n" x="37.5" y="32.7">39</text><text class="t" x="37.5" y="50.4">05:02:03</text></g>
<g id="c10r36" class="nd" transform="translate(1497,470.3)"><rect width="80" height="56"/><text class="n" x="37.5" y="32.7">25</text><text class="t" x="37.5" y="50.4">05:02:08</text></g>
<g id="c10r37" class="nd" transform="translate(1497,552.9)"><rect width="80" height="56"/><text class="n" x="37.5" y="32.7">55</text><text class="t" x="37.5" y="50.4">05:03:56</text></g>
<g id="c10r38" class="nd" transform="translate(1497,635.5)"><rect width="80" height="56"/><text class="n" x="37.5" y="32.7">24</text><text class="t" x="37.5" y="50.4">05:04:05</text></g>
<g id="c10r39" class="nd" transform="translate(1497,718.1)"><rect width="80" height="56"/><text class="n" x="37.5" y="32.7">29</text><text class="t" x="37.5" y="50.4">05:07:26</text></g>
<g id="c10r40" class="nd" transform="translate(1497,800.7)"><rect width="80" height="56"/><text class="n" x="37.5" y="32.7">35</text><text class="t" x="37.5" y="50.4">05:07:43</text></g>
<g id="c10r41" class="nd" transform="translate(1497,883.3)"><rect width="80" height="56"/><text class="n" x="37.5" y="32.7">50</text><text class="t" x="37.5" y="50.4">05:07:48</text></g>
<g id="c10r42" class="nd" transform="translate(1497,965.9)"><rect width="80" height="56"/><text class="n" x="37.5" y="32.7">53</text><text class="t" x="37.5" y="50.4">05:08:37</text></g>
<g id="c10r43" class="nd" transform="translate(1497,1048.5)"><rect width="80" height="56"/><text class="n" x="37.5" y="32.7">32</text><text class="t" x="37.5" y="50.4">05:09:05</text></g>
<g id="c10r44" class="nd" transform="translate(1497,1131.1)"><rect width="80" height="56"/><text class="n" x="37.5" y="32.7">26</text><text class="t" x="37.5" y="50.4">05:10:53</text></g>
<g id="c10r45" class="nd" transform="translate(1497,1213.7)"><rect width="80" height="56"/><text class="n" x="37.5" y="32.7">46</text><text class="t" x="37.5" y="50.4">05:11:42</text></g>

<g id="c11r31" class="nd" transform="translate(1641,57.3)"><rect width="80" height="56"/><text class="n" x="37.5" y="32.7">30</text><text class="t" x="37.5" y="50.4">05:03:08</text></g>
<g id="c11r32" class="nd" transform="translate(1641,139.9)"><rect width="80" height="56"/><text class="n" x="37.5" y="32.7">23</text><text class="t" x="37.5" y="50.4">05:03:10</text></g>
<g id="c11r33" class="nd" transform="translate(1641,222.5)"><rect width="80" height="56"/><text class="n" x="37.5" y="32.7">87</text><text class="t" x="37.5" y="50.4">05:03:14</text></g>
<g id="c11r34" class="nd" transform="translate(1641,305.1)"><rect width="80" height="56"/><text class="n" x="37.5" y="32.7">15</text><text class="t" x="37.5" y="50.4">05:03:21</text></g>
<g id="c11r35" class="nd" transform="translate(1641,387.7)"><rect width="80" height="56"/><text class="n" x="37.5" y="32.7">39</text><text class="t" x="37.5" y="50.4">05:03:30</text></g>
<g id="c11r36" class="nd" transform="translate(1641,470.3)"><rect width="80" height="56"/><text class="n" x="37.5" y="32.7">25</text><text class="t" x="37.5" y="50.4">05:03:33</text></g>
<g id="c11r37" class="nd" transform="translate(1641,552.9)"><rect width="80" height="56"/><text class="n" x="37.5" y="32.7">24</text><text class="t" x="37.5" y="50.4">05:05:42</text></g>
<g id="c11r38" class="nd" transform="translate(1641,635.5)"><rect width="80" height="56"/><text class="n" x="37.5" y="32.7">55</text><text class="t" x="37.5" y="50.4">05:05:47</text></g>
<g id="c11r39" class="nd" transform="translate(1641,718.1)"><rect width="80" height="56"/><text class="n" x="37.5" y="32.7">29</text><text class="t" x="37.5" y="50.4">05:09:07</text></g>
<g id="c11r40" class="nd" transform="translate(1641,800.7)"><rect width="80" height="56"/><text class="n" x="37.5" y="32.7">35</text><text class="t" x="37.5" y="50.4">05:09:18</text></g>
<g id="c11r41" class="nd" transform="translate(1641,883.3)"><rect width="80" height="56"/><text class="n" x="37.5" y="32.7">50</text><text class="t" x="37.5" y="50.4">05:09:22</text></g>
<g id="c11r42" class="nd" transform="translate(1641,965.9)"><rect width="80" height="56"/><text class="n" x="37.5" y="32.7">53</text><text class="t" x="37.5" y="50.4">05:10:05</text></g>
<g id="c11r43" class="nd" transform="translate(1641,1048.5)"><rect width="80" height="56"/><text class="n" x="37.5" y="32.7">32</text><text class="t" x="37.5" y="50.4">05:11:14</text></g>
<g id="c11r44" class="nd" transform="translate(1641,1131.1)"><rect width="80" height="56"/><text class="n" x="37.5" y="32.7">26</text><text class="t" x="37.5" y="50.4">05:12:43</text></g>
<g id="c11r45" class="nd" transform="translate(1641,1213.7)"><rect width="80" height="56"/><text class="n" x="37.5" y="32.7">46</text><text class="t" x="37.5" y="50.4">05:13:34</text></g>

<g id="c12r31" class="nd" transform="translate(1785,57.3)"><rect width="80" height="56"/><text class="n" x="37.5" y="32.7">30</text><text class="t" x="37.5" y="50.4">05:04:31</text></g>
<g id="c12r32" class="nd" transform="translate(1785,139.9)"><rect width="80" height="56"/><text class="n" x="37.5" y="32.7">87</text><text class="t" x="37.5" y="50.4">05:04:34</text></g>
<g id="c12r33" class="nd" transform="translate(1785,222.5)"><rect width="80" height="56"/><text class="n" x="37.5" y="32.7">15</text><text class="t" x="37.5" y="50.4">05:04:41</text></g>
<g id="c12r34" class="nd" transform="translate(1785,305.1)"><rect width="80" height="56"/><text class="n" x="37.5" y="32.7">23</text><text class="t" x="37.5" y="50.4">05:04:45</text></g>
<g id="c12r35" class="nd" transform="translate(1785,387.7)"><rect width="80" height="56"/><text class="n" x="37.5" y="32.7">39</text><text class="t" x="37.5" y="50.4">05:04:49</text></g>
<g id="c12r36" class="nd" transform="translate(1785,470.3)"><rect width="80" height="56"/><text class="n" x="37.5" y="32.7">25</text><text class="t" x="37.5" y="50.4">05:04:51</text></g>
<g id="c12r37" class="nd" transform="translate(1785,552.9)"><rect width="80" height="56"/><text class="n" x="37.5" y="32.7">24</text><text class="t" x="37.5" y="50.4">05:07:05</text></g>
<g id="c12r38" class="nd" transform="translate(1785,635.5)"><rect width="80" height="56"/><text class="n" x="37.5" y="32.7">55</text><text class="t" x="37.5" y="50.4">05:07:07</text></g>
<g id="c12r39" class="nd" transform="translate(1785,718.1)"><rect width="80" height="56"/><text class="n" x="37.5" y="32.7">29</text><text class="t" x="37.5" y="50.4">05:10:33</text></g>
<g id="c12r40" class="nd" transform="translate(1785,800.7)"><rect width="80" height="56"/><text class="n" x="37.5" y="32.7">35</text><text class="t" x="37.5" y="50.4">05:10:43</text></g>
<g id="c12r41" class="nd" transform="translate(1785,883.3)"><rect width="80" height="56"/><text class="n" x="37.5" y="32.7">50</text><text class="t" x="37.5" y="50.4">05:10:46</text></g>
<g id="c12r42" class="nd" transform="translate(1785,965.9)"><rect width="80" height="56"/><text class="n" x="37.5" y="32.7">53</text><text class="t" x="37.5" y="50.4">05:11:32</text></g>
<g id="c12r43" class="nd" transform="translate(1785,1048.5)"><rect width="80" height="56"/><text class="n" x="37.5" y="32.7">32</text><text class="t" x="37.5" y="50.4">05:12:48</text></g>
<g id="c12r44" class="nd" transform="translate(1785,1131.1)"><rect width="80" height="56"/><text class="n" x="37.5" y="32.7">26</text><text class="t" x="37.5" y="50.4">05:14:10</text></g>
<g id="c12r45" class="nd" transform="translate(1785,1213.7)"><rect width="80" height="56"/><text class="n" x="37.5" y="32.7">46</text><text class="t" x="37.5" y="50.4">05:14:52</text></g>

<g id="c13r31" class="nd" transform="translate(1928,57.3)"><rect width="80" height="56"/><text class="n" x="37.5" y="32.7">87</text><text class="t" x="37.5" y="50.4">05:05:22</text></g>
<g id="c13r32" class="nd" transform="translate(1928,139.9)"><rect width="80" height="56"/><text class="n" x="37.5" y="32.7">30</text><text class="t" x="37.5" y="50.4">05:05:30</text></g>
<g id="c13r33" class="nd" transform="translate(1928,222.5)"><rect width="80" height="56"/><text class="n" x="37.5" y="32.7">15</text><text class="t" x="37.5" y="50.4">05:05:36</text></g>
<g id="c13r34" class="nd" transform="translate(1928,305.1)"><rect width="80" height="56"/><text class="n" x="37.5" y="32.7">39</text><text class="t" x="37.5" y="50.4">05:05:45</text></g>
<g id="c13r35" class="nd" transform="translate(1928,387.7)"><rect width="80" height="56"/><text class="n" x="37.5" y="32.7">23</text><text class="t" x="37.5" y="50.4">05:05:47</text></g>
<g id="c13r36" class="nd" transform="translate(1928,470.3)"><rect width="80" height="56"/><text class="n" x="37.5" y="32.7">25</text><text class="t" x="37.5" y="50.4">05:05:48</text></g>
<g id="c13r37" class="nd" transform="translate(1928,552.9)"><rect width="80" height="56"/><text class="n" x="37.5" y="32.7">24</text><text class="t" x="37.5" y="50.4">05:08:04</text></g>
<g id="c13r38" class="nd" transform="translate(1928,635.5)"><rect width="80" height="56"/><text class="n" x="37.5" y="32.7">55</text><text class="t" x="37.5" y="50.4">05:08:09</text></g>
<g id="c13r39" class="nd" transform="translate(1928,718.1)"><rect width="80" height="56"/><text class="n" x="37.5" y="32.7">29</text><text class="t" x="37.5" y="50.4">05:11:24</text></g>
<g id="c13r40" class="nd" transform="translate(1928,800.7)"><rect width="80" height="56"/><text class="n" x="37.5" y="32.7">35</text><text class="t" x="37.5" y="50.4">05:11:39</text></g>
<g id="c13r41" class="nd" transform="translate(1928,883.3)"><rect width="80" height="56"/><text class="n" x="37.5" y="32.7">50</text><text class="t" x="37.5" y="50.4">05:11:48</text></g>
<g id="c13r42" class="nd" transform="translate(1928,965.9)"><rect width="80" height="56"/><text class="n" x="37.5" y="32.7">53</text><text class="t" x="37.5" y="50.4">05:12:34</text></g>
<g id="c13r43" class="nd" transform="translate(1928,1048.5)"><rect width="80" height="56"/><text class="n" x="37.5" y="32.7">32</text><text class="t" x="37.5" y="50.4">05:13:45</text></g>
<g id="c13r44" class="nd" transform="translate(1928,1131.1)"><rect width="80" height="56"/><text class="n" x="37.5" y="32.7">26</text><text class="t" x="37.5" y="50.4">05:15:05</text></g>
<g id="c13r45" class="nd" transform="translate(1928,1213.7)"><rect width="80" height="56"/><text class="n" x="37.5" y="32.7">46</text><text class="t" x="37.5" y="50.4">05:15:54</text></g>
</g>
</svg>
